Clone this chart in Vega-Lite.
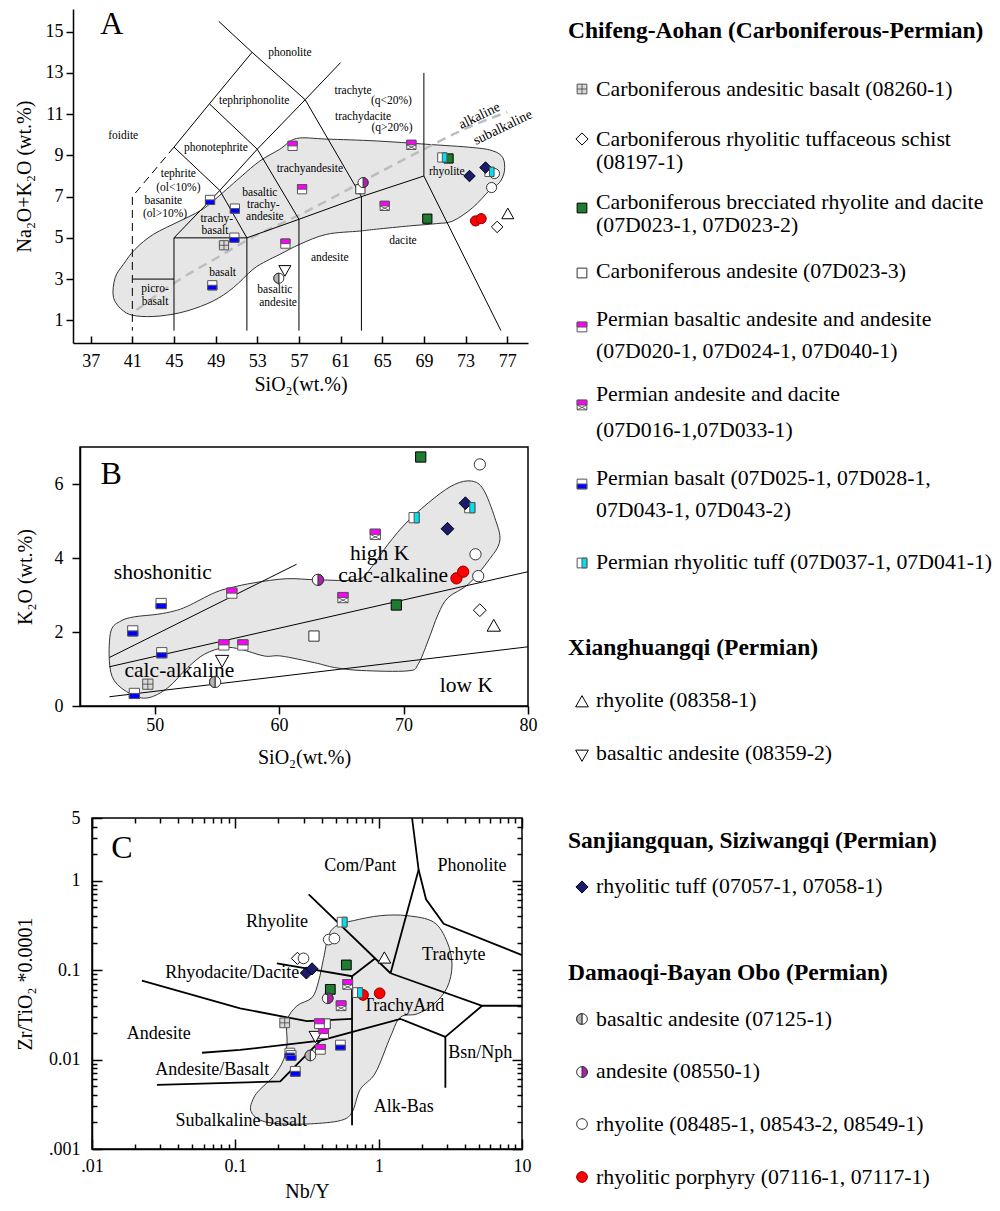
{
"$schema": "https://vega.github.io/schema/vega-lite/v6.json",
"padding": {"left": 13, "top": 8, "right": 0, "bottom": 0},
"config": {
  "font": "Liberation Serif",
  "view": {"stroke": null},
  "axis": {"grid": false, "domainColor": "#000000", "tickColor": "#000000", "labelColor": "#000000", "titleColor": "#000000", "labelFont": "Liberation Serif", "titleFont": "Liberation Serif", "titleFontWeight": "normal", "labelFontSize": 18, "titleFontSize": 20, "domainWidth": 1.5, "tickWidth": 1.5, "labelFlush": false, "labelOverlap": false},
  "text": {"font": "Liberation Serif", "color": "#000000"}
},
"datasets": {
  "blank": [{"t": ""}],
  "blobA": [{"i":1,"x":39.19,"y":2.1},{"i":2,"x":39.35,"y":3.07},{"i":3,"x":40.15,"y":3.72},{"i":4,"x":41.27,"y":4.45},{"i":5,"x":43.02,"y":5.17},{"i":6,"x":45.58,"y":5.82},{"i":7,"x":47.5,"y":6.31},{"i":8,"x":48.77,"y":6.79},{"i":9,"x":51.33,"y":7.92},{"i":10,"x":53.25,"y":8.73},{"i":11,"x":55.17,"y":9.3},{"i":12,"x":56.77,"y":9.82},{"i":13,"x":59.65,"y":9.79},{"i":14,"x":64.44,"y":9.7},{"i":15,"x":69.23,"y":9.54},{"i":16,"x":73.7,"y":9.38},{"i":17,"x":75.62,"y":9.22},{"i":18,"x":76.58,"y":8.89},{"i":19,"x":76.74,"y":8.25},{"i":20,"x":76.26,"y":7.68},{"i":21,"x":75.3,"y":7.3},{"i":22,"x":73.7,"y":6.47},{"i":23,"x":71.79,"y":5.82},{"i":24,"x":70.19,"y":5.69},{"i":25,"x":67.63,"y":5.58},{"i":26,"x":64.44,"y":5.42},{"i":27,"x":62.84,"y":5.33},{"i":28,"x":59.65,"y":5.17},{"i":29,"x":57.09,"y":4.69},{"i":30,"x":55.17,"y":4.2},{"i":31,"x":53.9,"y":3.88},{"i":32,"x":52.6,"y":3.48},{"i":33,"x":50.69,"y":2.58},{"i":34,"x":48.77,"y":1.94},{"i":35,"x":46.22,"y":1.45},{"i":36,"x":43.66,"y":1.21},{"i":37,"x":41.43,"y":1.21},{"i":38,"x":40.15,"y":1.45}],
  "irvineA": [{"i":1,"x":41.4,"y":1.5},{"i":2,"x":45,"y":2.8},{"i":3,"x":49,"y":4.0},{"i":4,"x":53,"y":5.15},{"i":5,"x":57,"y":6.1},{"i":6,"x":61,"y":7.15},{"i":7,"x":65,"y":8.25},{"i":8,"x":69,"y":9.3},{"i":9,"x":73,"y":10.3},{"i":10,"x":77,"y":11.1}],
  "linesA": [
    {"seg":"L1","i":1,"x":49.3,"y":15.5},{"seg":"L1","i":2,"x":52.5,"y":14},{"seg":"L1","i":3,"x":57.6,"y":11.7},
    {"seg":"L2","i":1,"x":52.5,"y":14},{"seg":"L2","i":2,"x":48.4,"y":11.5},{"seg":"L2","i":3,"x":45,"y":9.4},
    {"seg":"L3","i":1,"x":45,"y":9.4},{"seg":"L3","i":2,"x":41,"y":7},{"seg":"L3","i":3,"x":41,"y":0.5},
    {"seg":"L4","i":1,"x":41,"y":3},{"seg":"L4","i":2,"x":45,"y":3},
    {"seg":"L5","i":1,"x":45,"y":0.5},{"seg":"L5","i":2,"x":45,"y":5},{"seg":"L5","i":3,"x":49.4,"y":7.3},{"seg":"L5","i":4,"x":53,"y":9.3},{"seg":"L5","i":5,"x":57.6,"y":11.7},{"seg":"L5","i":6,"x":61,"y":13.5},
    {"seg":"L6","i":1,"x":45,"y":5},{"seg":"L6","i":2,"x":52,"y":5},{"seg":"L6","i":3,"x":57,"y":5.9},{"seg":"L6","i":4,"x":63,"y":7},{"seg":"L6","i":5,"x":69,"y":8},{"seg":"L6","i":6,"x":76.4,"y":0.5},
    {"seg":"L7","i":1,"x":45,"y":9.4},{"seg":"L7","i":2,"x":49.4,"y":7.3},{"seg":"L7","i":3,"x":52,"y":5},{"seg":"L7","i":4,"x":52,"y":0.5},
    {"seg":"L8","i":1,"x":48.4,"y":11.5},{"seg":"L8","i":2,"x":53,"y":9.3},{"seg":"L8","i":3,"x":57,"y":5.9},{"seg":"L8","i":4,"x":57,"y":0.5},
    {"seg":"L9","i":1,"x":57.6,"y":11.7},{"seg":"L9","i":2,"x":63,"y":7},{"seg":"L9","i":3,"x":63,"y":0.5},
    {"seg":"L10","i":1,"x":69,"y":8},{"seg":"L10","i":2,"x":69,"y":13}
  ],
  "labelsA": [
    {"x":40.12,"y":9.95,"t":"foidite"},{"x":56.13,"y":13.97,"t":"phonolite"},{"x":52.7,"y":11.64,"t":"tephriphonolite"},{"x":49.03,"y":9.36,"t":"phonotephrite"},
    {"x":62.2,"y":12.12,"t":"trachyte"},{"x":65.88,"y":11.62,"t":"(q<20%)"},{"x":63.16,"y":10.88,"t":"trachydacite"},{"x":65.94,"y":10.32,"t":"(q>20%)"},
    {"x":58.05,"y":8.36,"t":"trachyandesite"},{"x":71.2,"y":8.21,"t":"rhyolite"},{"x":45.42,"y":8.1,"t":"tephrite"},{"x":45.42,"y":7.44,"t":"(ol<10%)"},
    {"x":43.98,"y":6.8,"t":"basanite"},{"x":44.14,"y":6.14,"t":"(ol>10%)"},{"x":53.25,"y":7.18,"t":"basaltic"},{"x":53.57,"y":6.6,"t":"trachy-"},{"x":53.73,"y":6.0,"t":"andesite"},
    {"x":49.1,"y":5.92,"t":"trachy-"},{"x":48.94,"y":5.32,"t":"basalt"},{"x":49.67,"y":3.31,"t":"basalt"},{"x":43.18,"y":2.5,"t":"picro-"},{"x":43.18,"y":1.9,"t":"basalt"},
    {"x":54.69,"y":2.45,"t":"basaltic"},{"x":55.0,"y":1.84,"t":"andesite"},{"x":59.96,"y":4.04,"t":"andesite"},{"x":66.99,"y":4.85,"t":"dacite"}
  ],
  "ptsA": [
    {"type":"andbas","x":49.8,"y":4.64},
    {"type":"pbasalt","x":48.46,"y":6.84},{"type":"pbasalt","x":50.85,"y":6.42},{"type":"pbasalt","x":50.8,"y":5.01},{"type":"pbasalt","x":48.68,"y":2.7},
    {"type":"pbasand","x":56.39,"y":9.46},{"type":"pbasand","x":57.3,"y":7.36},{"type":"pbasand","x":55.7,"y":4.72},
    {"type":"pandac","x":67.8,"y":9.51},{"type":"pandac","x":65.24,"y":6.55},
    {"type":"andesiteC","x":62.9,"y":7.36},
    {"type":"basandD","x":55.07,"y":3.04},{"type":"basandX","x":55.65,"y":3.43},
    {"type":"andD","x":63.16,"y":7.68},
    {"type":"breccia","x":69.33,"y":5.93},{"type":"breccia","x":71.37,"y":8.85},
    {"type":"ptuff","x":70.77,"y":8.9},{"type":"ptuff","x":75.3,"y":8.2},
    {"type":"tuffS","x":73.38,"y":8.0},{"type":"tuffS","x":74.92,"y":8.41},
    {"type":"rhyD","x":75.78,"y":8.12},{"type":"rhyD","x":75.5,"y":7.44},
    {"type":"porph","x":73.96,"y":5.82},{"type":"porph","x":74.5,"y":5.93},
    {"type":"schist","x":76.04,"y":5.53},{"type":"rhyoliteX","x":77.06,"y":6.15}
  ],
  "blobB": [{"i":1,"x":46.49,"y":2.03},{"i":2,"x":47.3,"y":2.3},{"i":3,"x":48.37,"y":2.41},{"i":4,"x":50.25,"y":2.48},{"i":5,"x":51.59,"y":2.57},{"i":6,"x":52.66,"y":2.7},{"i":7,"x":54.8,"y":3.06},{"i":8,"x":56.15,"y":3.2},{"i":9,"x":58.0,"y":3.33},{"i":10,"x":60.57,"y":3.44},{"i":11,"x":63.1,"y":3.41},{"i":12,"x":66.3,"y":3.42},{"i":13,"x":67.4,"y":3.74},{"i":14,"x":68.75,"y":4.37},{"i":15,"x":70.36,"y":5.0},{"i":16,"x":72.5,"y":5.63},{"i":17,"x":74.11,"y":5.99},{"i":18,"x":75.46,"y":6.08},{"i":19,"x":76.4,"y":5.86},{"i":20,"x":77.33,"y":5.09},{"i":21,"x":77.73,"y":4.46},{"i":22,"x":76.8,"y":3.92},{"i":23,"x":75.2,"y":3.29},{"i":24,"x":73.58,"y":2.93},{"i":25,"x":72.78,"y":2.48},{"i":26,"x":71.97,"y":1.76},{"i":27,"x":71.17,"y":1.13},{"i":28,"x":70.36,"y":0.95},{"i":29,"x":66.6,"y":0.96},{"i":30,"x":64.46,"y":1.04},{"i":31,"x":62.85,"y":1.17},{"i":32,"x":60.17,"y":1.35},{"i":33,"x":58.83,"y":1.35},{"i":34,"x":56.95,"y":1.53},{"i":35,"x":55.6,"y":1.58},{"i":36,"x":54.0,"y":1.4},{"i":37,"x":52.66,"y":1.04},{"i":38,"x":51.05,"y":0.49},{"i":39,"x":49.45,"y":0.22},{"i":40,"x":48.1,"y":0.32},{"i":41,"x":46.76,"y":0.68},{"i":42,"x":46.36,"y":1.22}],
  "linesB": [
    {"seg":"S1","i":1,"x":46.36,"y":1.31},{"seg":"S1","i":2,"x":61.4,"y":3.83},
    {"seg":"S2","i":1,"x":46.36,"y":1.06},{"seg":"S2","i":2,"x":80,"y":3.63},
    {"seg":"S3","i":1,"x":46.36,"y":0.25},{"seg":"S3","i":2,"x":80,"y":1.6}
  ],
  "labelsB": [
    {"x":50.65,"y":3.6,"t":"shoshonitic"},{"x":51.99,"y":0.95,"t":"calc-alkaline"},{"x":68.08,"y":4.1,"t":"high K"},{"x":69.16,"y":3.51,"t":"calc-alkaline"},{"x":75.05,"y":0.54,"t":"low K"}
  ],
  "ptsB": [
    {"type":"andbas","x":49.45,"y":0.59},
    {"type":"pbasalt","x":48.24,"y":2.03},{"type":"pbasalt","x":50.52,"y":2.77},{"type":"pbasalt","x":50.57,"y":1.44},{"type":"pbasalt","x":48.37,"y":0.34},
    {"type":"pbasand","x":56.2,"y":3.05},{"type":"pbasand","x":55.56,"y":1.65},{"type":"pbasand","x":57.09,"y":1.65},
    {"type":"basandD","x":54.86,"y":0.65},{"type":"basandX","x":55.42,"y":1.23},
    {"type":"andesiteC","x":62.8,"y":1.89},{"type":"andD","x":63.12,"y":3.41},
    {"type":"pandac","x":65.13,"y":2.93},{"type":"pandac","x":67.73,"y":4.64},
    {"type":"breccia","x":69.42,"y":2.73},{"type":"breccia","x":71.38,"y":6.73},
    {"type":"ptuff","x":70.85,"y":5.09},{"type":"ptuff","x":75.32,"y":5.36},
    {"type":"tuffS","x":73.53,"y":4.79},{"type":"tuffS","x":74.97,"y":5.48},
    {"type":"rhyD","x":76.13,"y":6.53},{"type":"rhyD","x":75.78,"y":4.1},{"type":"rhyD","x":76.0,"y":3.51},
    {"type":"porph","x":74.25,"y":3.45},{"type":"porph","x":74.79,"y":3.63},
    {"type":"schist","x":76.13,"y":2.59},{"type":"rhyoliteX","x":77.25,"y":2.16}
  ],
  "blobC": [{"i":1,"x":0.5125,"y":0.315},{"i":2,"x":0.669,"y":0.357},{"i":3,"x":1.028,"y":0.405},{"i":4,"x":1.578,"y":0.405},{"i":5,"x":2.42,"y":0.343},{"i":6,"x":3.0,"y":0.207},{"i":7,"x":3.25,"y":0.114},{"i":8,"x":3.0,"y":0.0634},{"i":9,"x":2.42,"y":0.0416},{"i":10,"x":1.853,"y":0.0323},{"i":11,"x":1.417,"y":0.0297},{"i":12,"x":1.207,"y":0.0179},{"i":13,"x":0.948,"y":0.00707},{"i":14,"x":0.745,"y":0.00465},{"i":15,"x":0.652,"y":0.00257},{"i":16,"x":0.541,"y":0.00208},{"i":17,"x":0.334,"y":0.00191},{"i":18,"x":0.206,"y":0.00191},{"i":19,"x":0.149,"y":0.0021},{"i":20,"x":0.128,"y":0.0027},{"i":21,"x":0.134,"y":0.0037},{"i":22,"x":0.149,"y":0.00465},{"i":23,"x":0.185,"y":0.0065},{"i":24,"x":0.217,"y":0.00993},{"i":25,"x":0.2295,"y":0.0151},{"i":26,"x":0.2295,"y":0.0273},{"i":27,"x":0.2696,"y":0.0399},{"i":28,"x":0.343,"y":0.0492},{"i":29,"x":0.381,"y":0.0751},{"i":30,"x":0.413,"y":0.1355},{"i":31,"x":0.448,"y":0.244}],
  "linesC": [
    {"seg":"c1","i":1,"x":0.325,"y":0.7},{"seg":"c1","i":2,"x":1.21,"y":0.092},
    {"seg":"c2","i":1,"x":1.71,"y":5},{"seg":"c2","i":2,"x":1.9,"y":1.32},{"seg":"c2","i":3,"x":2.14,"y":0.618},{"seg":"c2","i":4,"x":2.84,"y":0.328},{"seg":"c2","i":5,"x":10,"y":0.147},
    {"seg":"c3","i":1,"x":1.9,"y":1.32},{"seg":"c3","i":2,"x":1.21,"y":0.092},
    {"seg":"c4","i":1,"x":1.21,"y":0.092},{"seg":"c4","i":2,"x":5.27,"y":0.0399},{"seg":"c4","i":3,"x":10,"y":0.0399},
    {"seg":"c5","i":1,"x":5.27,"y":0.0399},{"seg":"c5","i":2,"x":2.92,"y":0.0179},{"seg":"c5","i":3,"x":2.92,"y":0.00484},
    {"seg":"c6","i":1,"x":2.92,"y":0.0179},{"seg":"c6","i":2,"x":1.42,"y":0.0284},{"seg":"c6","i":3,"x":0.392,"y":0.0163},{"seg":"c6","i":4,"x":0.206,"y":0.0057},{"seg":"c6","i":5,"x":0.0284,"y":0.0052},
    {"seg":"c7","i":1,"x":0.0586,"y":0.0119},{"seg":"c7","i":2,"x":0.108,"y":0.0128},{"seg":"c7","i":3,"x":0.392,"y":0.0163},
    {"seg":"c8","i":1,"x":0.0223,"y":0.0762},{"seg":"c8","i":2,"x":0.108,"y":0.0373},{"seg":"c8","i":3,"x":0.316,"y":0.0268},{"seg":"c8","i":4,"x":0.652,"y":0.0284},
    {"seg":"c9","i":1,"x":0.195,"y":0.119},{"seg":"c9","i":2,"x":0.652,"y":0.0853},{"seg":"c9","i":3,"x":0.948,"y":0.1355},
    {"seg":"c10","i":1,"x":0.652,"y":0.0853},{"seg":"c10","i":2,"x":0.652,"y":0.00184}
  ],
  "labelsC": [
    {"x":0.745,"y":1.47,"t":"Com/Pant"},{"x":4.48,"y":1.47,"t":"Phonolite"},{"x":0.195,"y":0.343,"t":"Rhyolite"},{"x":0.0953,"y":0.0927,"t":"Rhyodacite/Dacite"},
    {"x":0.0292,"y":0.0195,"t":"Andesite"},{"x":0.069,"y":0.0076,"t":"Andesite/Basalt"},{"x":0.11,"y":0.00203,"t":"Subalkaline basalt"},
    {"x":3.34,"y":0.147,"t":"Trachyte"},{"x":1.494,"y":0.0399,"t":"TrachyAnd"},{"x":5.12,"y":0.0117,"t":"Bsn/Nph"},{"x":1.494,"y":0.00292,"t":"Alk-Bas"}
  ],
  "ptsC": [
    {"type":"andbas","x":0.221,"y":0.0257},{"type":"andesiteC","x":0.425,"y":0.0251},
    {"type":"pbasand","x":0.386,"y":0.0251},{"type":"pbasand","x":0.413,"y":0.0195},{"type":"pbasand","x":0.392,"y":0.013},
    {"type":"basandX","x":0.362,"y":0.0182},{"type":"basandD","x":0.334,"y":0.0111},
    {"type":"pbasalt","x":0.541,"y":0.0145},{"type":"pbasalt","x":0.24,"y":0.0118},{"type":"pbasalt","x":0.245,"y":0.0111},{"type":"pbasalt","x":0.262,"y":0.00738},
    {"type":"pandac","x":0.608,"y":0.069},{"type":"pandac","x":0.547,"y":0.0399},
    {"type":"andD","x":0.441,"y":0.0484},
    {"type":"breccia","x":0.595,"y":0.114},{"type":"breccia","x":0.46,"y":0.0608},
    {"type":"schist","x":0.271,"y":0.135},
    {"type":"rhyD","x":0.448,"y":0.219},{"type":"rhyD","x":0.491,"y":0.225},{"type":"rhyD","x":0.299,"y":0.135},
    {"type":"tuffS","x":0.313,"y":0.0927},{"type":"tuffS","x":0.343,"y":0.103},
    {"type":"ptuff","x":0.556,"y":0.343},{"type":"ptuff","x":0.713,"y":0.0559},
    {"type":"rhyoliteX","x":1.096,"y":0.1355},
    {"type":"porph","x":0.778,"y":0.0527},{"type":"porph","x":1.016,"y":0.055}
  ],
  "legendText": [
    {"kind":"h","row":30,"t":"Chifeng-Aohan (Carboniferous-Permian)"},
    {"kind":"i","row":88,"t":"Carboniferous andesitic basalt (08260-1)"},
    {"kind":"i","row":138,"t":"Carboniferous rhyolitic tuffaceous schist"},
    {"kind":"i","row":161,"t":"(08197-1)"},
    {"kind":"i","row":201,"t":"Carboniferous brecciated rhyolite and dacite"},
    {"kind":"i","row":224,"t":"(07D023-1, 07D023-2)"},
    {"kind":"i","row":270,"t":"Carboniferous andesite (07D023-3)"},
    {"kind":"i","row":318,"t":"Permian basaltic andesite and andesite"},
    {"kind":"i","row":350,"t":"(07D020-1, 07D024-1, 07D040-1)"},
    {"kind":"i","row":393,"t":"Permian andesite and dacite"},
    {"kind":"i","row":429,"t":"(07D016-1,07D033-1)"},
    {"kind":"i","row":477,"t":"Permian basalt (07D025-1, 07D028-1,"},
    {"kind":"i","row":509,"t":"07D043-1, 07D043-2)"},
    {"kind":"i","row":561,"t":"Permian rhyolitic tuff (07D037-1, 07D041-1)"},
    {"kind":"h","row":647,"t":"Xianghuangqi (Permian)"},
    {"kind":"i","row":699,"t":"rhyolite (08358-1)"},
    {"kind":"i","row":752,"t":"basaltic andesite (08359-2)"},
    {"kind":"h","row":840,"t":"Sanjiangquan, Siziwangqi (Permian)"},
    {"kind":"i","row":885,"t":"rhyolitic tuff (07057-1, 07058-1)"},
    {"kind":"h","row":972,"t":"Damaoqi-Bayan Obo (Permian)"},
    {"kind":"i","row":1018,"t":"basaltic andesite (07125-1)"},
    {"kind":"i","row":1070,"t":"andesite (08550-1)"},
    {"kind":"i","row":1123,"t":"rhyolite (08485-1, 08543-2, 08549-1)"},
    {"kind":"i","row":1176,"t":"rhyolitic porphyry (07116-1, 07117-1)"}
  ],
  "legendSym": [
    {"type":"andbas","row":88},{"type":"schist","row":138},{"type":"breccia","row":207},{"type":"andesiteC","row":272},
    {"type":"pbasand","row":326},{"type":"pandac","row":404},{"type":"pbasalt","row":483},{"type":"ptuff","row":562},
    {"type":"rhyoliteX","row":701},{"type":"basandX","row":754},{"type":"tuffS","row":886},
    {"type":"basandD","row":1018},{"type":"andD","row":1071},{"type":"rhyD","row":1123},{"type":"porph","row":1176}
  ]
},
"hconcat": [
  {"vconcat": [
    {"vconcat": [
    {"hconcat": [
      {"width": 1, "height": 10, "view": {"stroke": null}, "data": {"name": "blank"}, "mark": {"type": "text"}, "encoding": {"text": {"field": "t"}}},
      {
      "width": 455, "height": 334,
      "view": {"stroke": null},
      "encoding": {
        "x": {"field": "x", "type": "quantitative", "scale": {"domain": [35.3, 79], "nice": false, "zero": false},
              "axis": {"title": "SiO₂(wt.%)", "values": [37,41,45,49,53,57,61,65,69,73,77], "tickSize": -7, "labelPadding": 16, "titlePadding": 4}},
        "y": {"field": "y", "type": "quantitative", "scale": {"domain": [-0.1, 16.1], "nice": false, "zero": false},
              "axis": {"title": "Na₂O+K₂O (wt.%)", "values": [1,3,5,7,9,11,13,15], "tickSize": 7, "labelPadding": 3, "titlePadding": 11}}
      },
      "layer": [
        {"data": {"name": "blobA"}, "mark": {"type": "line", "interpolate": "cardinal-closed", "fill": "#e6e6e6", "stroke": "#333333", "strokeWidth": 1},
         "encoding": {"order": {"field": "i", "type": "quantitative"}}},
        {"data": {"name": "irvineA"}, "mark": {"type": "line", "interpolate": "monotone", "stroke": "#bdbdbd", "strokeWidth": 2.5, "strokeDash": [9, 6]},
         "encoding": {"order": {"field": "i", "type": "quantitative"}}},
        {"data": {"name": "linesA"}, "transform": [{"filter": "datum.seg != 'L3'"}], "mark": {"type": "line", "stroke": "#000000", "strokeWidth": 1},
         "encoding": {"detail": {"field": "seg"}, "order": {"field": "i", "type": "quantitative"}}},
        {"data": {"name": "linesA"}, "transform": [{"filter": "datum.seg == 'L3'"}], "mark": {"type": "line", "stroke": "#000000", "strokeWidth": 1, "strokeDash": [8, 5]},
         "encoding": {"detail": {"field": "seg"}, "order": {"field": "i", "type": "quantitative"}}},
        {"data": {"name": "labelsA"}, "mark": {"type": "text", "fontSize": 11.5, "align": "center", "baseline": "middle"},
         "encoding": {"text": {"field": "t"}}},
        {"data": {"values": [{"x": 74.34, "y": 10.92, "t": "alkaline"}, {"x": 76.58, "y": 10.35, "t": "subalkaline"}]},
         "mark": {"type": "text", "fontSize": 14, "angle": -26, "align": "center", "baseline": "middle"},
         "encoding": {"text": {"field": "t"}}},
        {"data": {"values": [{"x": 39.03, "y": 15.37, "t": "A"}]}, "mark": {"type": "text", "fontSize": 32, "align": "center", "baseline": "middle"},
         "encoding": {"text": {"field": "t"}}},
        {"data": {"name": "ptsA"}, "mark": {"type": "point", "filled": true, "opacity": 1, "strokeWidth": 1, "size": 85},
         "encoding": {
           "shape": {"field": "type", "type": "nominal", "legend": null, "scale": {"domain": ["andbas","schist","breccia","andesiteC","pbasand","pandac","pbasalt","ptuff","rhyoliteX","basandX","tuffS","basandD","andD","rhyD","porph"], "range": ["M-1,-1L1,-1L1,1L-1,1Z","M0,-1.25L1.25,0L0,1.25L-1.25,0Z","M-1,-1L1,-1L1,1L-1,1Z","M-1,-1L1,-1L1,1L-1,1Z","M-1,-1L1,-1L1,1L-1,1Z","M-1,-1L1,-1L1,1L-1,1Z","M-1,-1L1,-1L1,1L-1,1Z","M-1,-1L1,-1L1,1L-1,1Z","M0,-1.3L1.3,1L-1.3,1Z","M-1.3,-1L1.3,-1L0,1.3Z","M0,-1.25L1.25,0L0,1.25L-1.25,0Z","M1.1,0A1.1,1.1 0 1 1 -1.1,0A1.1,1.1 0 1 1 1.1,0Z","M1.1,0A1.1,1.1 0 1 1 -1.1,0A1.1,1.1 0 1 1 1.1,0Z","M1.1,0A1.1,1.1 0 1 1 -1.1,0A1.1,1.1 0 1 1 1.1,0Z","M1.1,0A1.1,1.1 0 1 1 -1.1,0A1.1,1.1 0 1 1 1.1,0Z"]}},
           "fill": {"field": "type", "type": "nominal", "legend": null, "scale": {"domain": ["andbas","schist","breccia","andesiteC","pbasand","pandac","pbasalt","ptuff","rhyoliteX","basandX","tuffS","basandD","andD","rhyD","porph"], "range": ["#d8d8d8","#ffffff","#1e7b2f","#ffffff","#ffffff","#ffffff","#ffffff","#ffffff","#ffffff","#ffffff","#1b1b6e","#ffffff","#ffffff","#ffffff","#ff0000"]}},
           "stroke": {"field": "type", "type": "nominal", "legend": null, "scale": {"domain": ["andbas","schist","breccia","andesiteC","pbasand","pandac","pbasalt","ptuff","rhyoliteX","basandX","tuffS","basandD","andD","rhyD","porph"], "range": ["#555555","#000000","#000000","#333333","#555555","#555555","#555555","#555555","#000000","#000000","#000000","#333333","#333333","#333333","#8b0000"]}}
         }},
        {"data": {"name": "ptsA"}, "transform": [{"filter": {"field": "type", "oneOf": ["pbasand","pandac","pbasalt","ptuff","basandD","andD"]}}],
         "mark": {"type": "point", "filled": true, "opacity": 1, "strokeWidth": 1, "size": 85},
         "encoding": {
           "shape": {"field": "type", "type": "nominal", "legend": null, "scale": {"domain": ["pbasand","pandac","pbasalt","ptuff","basandD","andD"], "range": ["M-1,-1L1,-1L1,0L-1,0Z","M-1,-1L1,-1L1,0L-1,0Z","M-1,0L1,0L1,1L-1,1Z","M0,-1L1,-1L1,1L0,1Z","M0,-1.1A1.1,1.1 0 0 0 0,1.1Z","M0,-1.1A1.1,1.1 0 0 1 0,1.1Z"]}},
           "fill": {"field": "type", "type": "nominal", "legend": null, "scale": {"domain": ["pbasand","pandac","pbasalt","ptuff","basandD","andD"], "range": ["#ff00ff","#ff00ff","#0000ff","#00e0f0","#b4b4b4","#b020b0"]}},
           "stroke": {"field": "type", "type": "nominal", "legend": null, "scale": {"domain": ["pbasand","pandac","pbasalt","ptuff","basandD","andD"], "range": ["#555555","#555555","#555555","#555555","#333333","#333333"]}}
         }},
        {"data": {"name": "ptsA"}, "transform": [{"filter": {"field": "type", "oneOf": ["andbas","pandac","basandD"]}}],
         "mark": {"type": "point", "filled": false, "opacity": 1, "strokeWidth": 0.8, "stroke": "#444444", "size": 85},
         "encoding": {
           "shape": {"field": "type", "type": "nominal", "legend": null, "scale": {"domain": ["andbas","pandac","basandD"], "range": ["M0,-1L0,1M-1,0L1,0","M-1,0L1,1M1,0L-1,1","M0,-1.1L0,1.1"]}}
         }}
      ],
      "resolve": {"scale": {"shape": "independent", "fill": "independent", "stroke": "independent"}}
    }], "spacing": 0},
    {"hconcat": [
      {"width": 1, "height": 10, "view": {"stroke": null}, "data": {"name": "blank"}, "mark": {"type": "text"}, "encoding": {"text": {"field": "t"}}},
      {
      "width": 448, "height": 259,
      "view": {"stroke": "#000000", "strokeWidth": 1.5},
      "encoding": {
        "x": {"field": "x", "type": "quantitative", "scale": {"domain": [44, 80], "nice": false, "zero": false},
              "axis": {"title": "SiO₂(wt.%)", "values": [50,60,70,80], "tickSize": 8, "labelPadding": 2, "titlePadding": 13}},
        "y": {"field": "y", "type": "quantitative", "scale": {"domain": [0, 7], "nice": false, "zero": false},
              "axis": {"title": "K₂O (wt.%)", "values": [0,2,4,6], "tickSize": 8, "labelPadding": 9, "titlePadding": 19}}
      },
      "layer": [
        {"data": {"name": "blobB"}, "mark": {"type": "line", "interpolate": "cardinal-closed", "fill": "#e6e6e6", "stroke": "#333333", "strokeWidth": 1},
         "encoding": {"order": {"field": "i", "type": "quantitative"}}},
        {"data": {"name": "linesB"}, "mark": {"type": "line", "stroke": "#000000", "strokeWidth": 1},
         "encoding": {"detail": {"field": "seg"}, "order": {"field": "i", "type": "quantitative"}}},
        {"data": {"name": "labelsB"}, "mark": {"type": "text", "fontSize": 21.5, "align": "center", "baseline": "middle"},
         "encoding": {"text": {"field": "t"}}},
        {"data": {"values": [{"x": 46.5, "y": 6.26, "t": "B"}]}, "mark": {"type": "text", "fontSize": 32, "align": "center", "baseline": "middle"},
         "encoding": {"text": {"field": "t"}}},
        {"data": {"name": "ptsB"}, "mark": {"type": "point", "filled": true, "opacity": 1, "strokeWidth": 1, "size": 105},
         "encoding": {
           "shape": {"field": "type", "type": "nominal", "legend": null, "scale": {"domain": ["andbas","schist","breccia","andesiteC","pbasand","pandac","pbasalt","ptuff","rhyoliteX","basandX","tuffS","basandD","andD","rhyD","porph"], "range": ["M-1,-1L1,-1L1,1L-1,1Z","M0,-1.25L1.25,0L0,1.25L-1.25,0Z","M-1,-1L1,-1L1,1L-1,1Z","M-1,-1L1,-1L1,1L-1,1Z","M-1,-1L1,-1L1,1L-1,1Z","M-1,-1L1,-1L1,1L-1,1Z","M-1,-1L1,-1L1,1L-1,1Z","M-1,-1L1,-1L1,1L-1,1Z","M0,-1.3L1.3,1L-1.3,1Z","M-1.3,-1L1.3,-1L0,1.3Z","M0,-1.25L1.25,0L0,1.25L-1.25,0Z","M1.1,0A1.1,1.1 0 1 1 -1.1,0A1.1,1.1 0 1 1 1.1,0Z","M1.1,0A1.1,1.1 0 1 1 -1.1,0A1.1,1.1 0 1 1 1.1,0Z","M1.1,0A1.1,1.1 0 1 1 -1.1,0A1.1,1.1 0 1 1 1.1,0Z","M1.1,0A1.1,1.1 0 1 1 -1.1,0A1.1,1.1 0 1 1 1.1,0Z"]}},
           "fill": {"field": "type", "type": "nominal", "legend": null, "scale": {"domain": ["andbas","schist","breccia","andesiteC","pbasand","pandac","pbasalt","ptuff","rhyoliteX","basandX","tuffS","basandD","andD","rhyD","porph"], "range": ["#d8d8d8","#ffffff","#1e7b2f","#ffffff","#ffffff","#ffffff","#ffffff","#ffffff","#ffffff","#ffffff","#1b1b6e","#ffffff","#ffffff","#ffffff","#ff0000"]}},
           "stroke": {"field": "type", "type": "nominal", "legend": null, "scale": {"domain": ["andbas","schist","breccia","andesiteC","pbasand","pandac","pbasalt","ptuff","rhyoliteX","basandX","tuffS","basandD","andD","rhyD","porph"], "range": ["#555555","#000000","#000000","#333333","#555555","#555555","#555555","#555555","#000000","#000000","#000000","#333333","#333333","#333333","#8b0000"]}}
         }},
        {"data": {"name": "ptsB"}, "transform": [{"filter": {"field": "type", "oneOf": ["pbasand","pandac","pbasalt","ptuff","basandD","andD"]}}],
         "mark": {"type": "point", "filled": true, "opacity": 1, "strokeWidth": 1, "size": 105},
         "encoding": {
           "shape": {"field": "type", "type": "nominal", "legend": null, "scale": {"domain": ["pbasand","pandac","pbasalt","ptuff","basandD","andD"], "range": ["M-1,-1L1,-1L1,0L-1,0Z","M-1,-1L1,-1L1,0L-1,0Z","M-1,0L1,0L1,1L-1,1Z","M0,-1L1,-1L1,1L0,1Z","M0,-1.1A1.1,1.1 0 0 0 0,1.1Z","M0,-1.1A1.1,1.1 0 0 1 0,1.1Z"]}},
           "fill": {"field": "type", "type": "nominal", "legend": null, "scale": {"domain": ["pbasand","pandac","pbasalt","ptuff","basandD","andD"], "range": ["#ff00ff","#ff00ff","#0000ff","#00e0f0","#b4b4b4","#b020b0"]}},
           "stroke": {"field": "type", "type": "nominal", "legend": null, "scale": {"domain": ["pbasand","pandac","pbasalt","ptuff","basandD","andD"], "range": ["#555555","#555555","#555555","#555555","#333333","#333333"]}}
         }},
        {"data": {"name": "ptsB"}, "transform": [{"filter": {"field": "type", "oneOf": ["andbas","pandac","basandD"]}}],
         "mark": {"type": "point", "filled": false, "opacity": 1, "strokeWidth": 0.8, "stroke": "#444444", "size": 105},
         "encoding": {
           "shape": {"field": "type", "type": "nominal", "legend": null, "scale": {"domain": ["andbas","pandac","basandD"], "range": ["M0,-1L0,1M-1,0L1,0","M-1,0L1,1M1,0L-1,1","M0,-1.1L0,1.1"]}}
         }}
      ],
      "resolve": {"scale": {"shape": "independent", "fill": "independent", "stroke": "independent"}}
    }], "spacing": 0}
    ], "spacing": 52},
    {"hconcat": [
      {"width": 1, "height": 10, "view": {"stroke": null}, "data": {"name": "blank"}, "mark": {"type": "text"}, "encoding": {"text": {"field": "t"}}},
      {
      "width": 430, "height": 331,
      "view": {"stroke": "#000000", "strokeWidth": 1.5},
      "layer": [
        {"data": {"name": "blobC"}, "mark": {"type": "line", "interpolate": "cardinal-closed", "fill": "#e6e6e6", "stroke": "#333333", "strokeWidth": 1},
         "encoding": {
           "x": {"field": "x", "type": "quantitative", "scale": {"type": "log", "domain": [0.01, 10], "nice": false},
                 "axis": {"orient": "bottom", "title": "Nb/Y", "values": [0.01, 0.1, 1, 10], "tickSize": -10, "labelPadding": 18, "titlePadding": 6,
                          "labelExpr": "datum.value < 0.05 ? '.01' : datum.value < 0.5 ? '0.1' : datum.value < 5 ? '1' : '10'"}},
           "y": {"field": "y", "type": "quantitative", "scale": {"type": "log", "domain": [0.001, 5], "nice": false},
                 "axis": {"orient": "left", "title": "Zr/TiO₂ *0.0001", "values": [0.001, 0.01, 0.1, 1, 5], "tickSize": -10, "labelPadding": 22, "titlePadding": 13,
                          "labelExpr": "datum.value < 0.005 ? '.001' : datum.value < 0.05 ? '0.01' : datum.value < 0.5 ? '0.1' : datum.value < 2 ? '1' : '5'"}},
           "order": {"field": "i", "type": "quantitative"}}},
        {"data": {"name": "linesC"}, "mark": {"type": "line", "stroke": "#000000", "strokeWidth": 1.8},
         "encoding": {
           "x": {"field": "x", "type": "quantitative", "axis": {"orient": "bottom", "values": [0.02,0.03,0.04,0.05,0.06,0.07,0.08,0.09,0.2,0.3,0.4,0.5,0.6,0.7,0.8,0.9,2,3,4,5,6,7,8,9], "tickSize": -5, "labels": false, "domain": false, "title": null}},
           "y": {"field": "y", "type": "quantitative", "axis": {"orient": "left", "values": [0.002,0.003,0.004,0.005,0.006,0.007,0.008,0.009,0.02,0.03,0.04,0.05,0.06,0.07,0.08,0.09,0.2,0.3,0.4,0.5,0.6,0.7,0.8,0.9,2,3,4], "tickSize": -5, "labels": false, "domain": false, "title": null}},
           "detail": {"field": "seg"}, "order": {"field": "i", "type": "quantitative"}}},
        {"data": {"name": "labelsC"}, "mark": {"type": "text", "fontSize": 18, "align": "center", "baseline": "middle"},
         "encoding": {
           "x": {"field": "x", "type": "quantitative", "axis": {"orient": "top", "values": [0.01, 0.1, 1, 10], "tickSize": -10, "labels": false, "domain": false, "title": null}},
           "y": {"field": "y", "type": "quantitative", "axis": {"orient": "right", "values": [0.001, 0.01, 0.1, 1], "tickSize": -10, "labels": false, "domain": false, "title": null}},
           "text": {"field": "t"}}},
        {"data": {"values": [{"x": 0.0162, "y": 2.29, "t": "C"}]}, "mark": {"type": "text", "fontSize": 32, "align": "center", "baseline": "middle"},
         "encoding": {
           "x": {"field": "x", "type": "quantitative", "axis": {"orient": "top", "values": [0.02,0.03,0.04,0.05,0.06,0.07,0.08,0.09,0.2,0.3,0.4,0.5,0.6,0.7,0.8,0.9,2,3,4,5,6,7,8,9], "tickSize": -5, "labels": false, "domain": false, "title": null}},
           "y": {"field": "y", "type": "quantitative", "axis": {"orient": "right", "values": [0.002,0.003,0.004,0.005,0.006,0.007,0.008,0.009,0.02,0.03,0.04,0.05,0.06,0.07,0.08,0.09,0.2,0.3,0.4,0.5,0.6,0.7,0.8,0.9,2,3,4], "tickSize": -5, "labels": false, "domain": false, "title": null}},
           "text": {"field": "t"}}},
        {"data": {"name": "ptsC"}, "mark": {"type": "point", "filled": true, "opacity": 1, "strokeWidth": 1, "size": 95},
         "encoding": {
           "x": {"field": "x", "type": "quantitative", "axis": null},
           "y": {"field": "y", "type": "quantitative", "axis": null},
           "shape": {"field": "type", "type": "nominal", "legend": null, "scale": {"domain": ["andbas","schist","breccia","andesiteC","pbasand","pandac","pbasalt","ptuff","rhyoliteX","basandX","tuffS","basandD","andD","rhyD","porph"], "range": ["M-1,-1L1,-1L1,1L-1,1Z","M0,-1.25L1.25,0L0,1.25L-1.25,0Z","M-1,-1L1,-1L1,1L-1,1Z","M-1,-1L1,-1L1,1L-1,1Z","M-1,-1L1,-1L1,1L-1,1Z","M-1,-1L1,-1L1,1L-1,1Z","M-1,-1L1,-1L1,1L-1,1Z","M-1,-1L1,-1L1,1L-1,1Z","M0,-1.3L1.3,1L-1.3,1Z","M-1.3,-1L1.3,-1L0,1.3Z","M0,-1.25L1.25,0L0,1.25L-1.25,0Z","M1.1,0A1.1,1.1 0 1 1 -1.1,0A1.1,1.1 0 1 1 1.1,0Z","M1.1,0A1.1,1.1 0 1 1 -1.1,0A1.1,1.1 0 1 1 1.1,0Z","M1.1,0A1.1,1.1 0 1 1 -1.1,0A1.1,1.1 0 1 1 1.1,0Z","M1.1,0A1.1,1.1 0 1 1 -1.1,0A1.1,1.1 0 1 1 1.1,0Z"]}},
           "fill": {"field": "type", "type": "nominal", "legend": null, "scale": {"domain": ["andbas","schist","breccia","andesiteC","pbasand","pandac","pbasalt","ptuff","rhyoliteX","basandX","tuffS","basandD","andD","rhyD","porph"], "range": ["#d8d8d8","#ffffff","#1e7b2f","#ffffff","#ffffff","#ffffff","#ffffff","#ffffff","#ffffff","#ffffff","#1b1b6e","#ffffff","#ffffff","#ffffff","#ff0000"]}},
           "stroke": {"field": "type", "type": "nominal", "legend": null, "scale": {"domain": ["andbas","schist","breccia","andesiteC","pbasand","pandac","pbasalt","ptuff","rhyoliteX","basandX","tuffS","basandD","andD","rhyD","porph"], "range": ["#555555","#000000","#000000","#333333","#555555","#555555","#555555","#555555","#000000","#000000","#000000","#333333","#333333","#333333","#8b0000"]}}
         }},
        {"data": {"name": "ptsC"}, "transform": [{"filter": {"field": "type", "oneOf": ["pbasand","pandac","pbasalt","ptuff","basandD","andD"]}}],
         "mark": {"type": "point", "filled": true, "opacity": 1, "strokeWidth": 1, "size": 95},
         "encoding": {
           "x": {"field": "x", "type": "quantitative", "axis": null},
           "y": {"field": "y", "type": "quantitative", "axis": null},
           "shape": {"field": "type", "type": "nominal", "legend": null, "scale": {"domain": ["pbasand","pandac","pbasalt","ptuff","basandD","andD"], "range": ["M-1,-1L1,-1L1,0L-1,0Z","M-1,-1L1,-1L1,0L-1,0Z","M-1,0L1,0L1,1L-1,1Z","M0,-1L1,-1L1,1L0,1Z","M0,-1.1A1.1,1.1 0 0 0 0,1.1Z","M0,-1.1A1.1,1.1 0 0 1 0,1.1Z"]}},
           "fill": {"field": "type", "type": "nominal", "legend": null, "scale": {"domain": ["pbasand","pandac","pbasalt","ptuff","basandD","andD"], "range": ["#ff00ff","#ff00ff","#0000ff","#00e0f0","#b4b4b4","#b020b0"]}},
           "stroke": {"field": "type", "type": "nominal", "legend": null, "scale": {"domain": ["pbasand","pandac","pbasalt","ptuff","basandD","andD"], "range": ["#555555","#555555","#555555","#555555","#333333","#333333"]}}
         }},
        {"data": {"name": "ptsC"}, "transform": [{"filter": {"field": "type", "oneOf": ["andbas","pandac","basandD"]}}],
         "mark": {"type": "point", "filled": false, "opacity": 1, "strokeWidth": 0.8, "stroke": "#444444", "size": 95},
         "encoding": {
           "x": {"field": "x", "type": "quantitative", "axis": null},
           "y": {"field": "y", "type": "quantitative", "axis": null},
           "shape": {"field": "type", "type": "nominal", "legend": null, "scale": {"domain": ["andbas","pandac","basandD"], "range": ["M0,-1L0,1M-1,0L1,0","M-1,0L1,1M1,0L-1,1","M0,-1.1L0,1.1"]}}
         }}
      ],
      "resolve": {"axis": {"x": "independent", "y": "independent"}, "scale": {"shape": "independent", "fill": "independent", "stroke": "independent"}}
    }], "spacing": 0}
  ], "spacing": 40},
  {
    "width": 432, "height": 1190,
    "view": {"stroke": null},
    "layer": [
      {"data": {"name": "legendText"}, "transform": [{"filter": "datum.kind == 'h'"}],
       "mark": {"type": "text", "fontSize": 23.5, "fontWeight": "bold", "align": "left", "baseline": "middle"},
       "encoding": {
         "x": {"datum": 0, "type": "quantitative", "scale": {"domain": [0, 432], "nice": false, "zero": false}, "axis": null},
         "y": {"field": "row", "type": "quantitative", "scale": {"domain": [8, 1198], "nice": false, "zero": false, "reverse": true}, "axis": null},
         "text": {"field": "t"}}},
      {"data": {"name": "legendText"}, "transform": [{"filter": "datum.kind == 'i'"}],
       "mark": {"type": "text", "fontSize": 21.8, "align": "left", "baseline": "middle"},
       "encoding": {
         "x": {"datum": 28, "type": "quantitative"},
         "y": {"field": "row", "type": "quantitative"},
         "text": {"field": "t"}}},
      {"data": {"name": "legendSym"}, "mark": {"type": "point", "filled": true, "opacity": 1, "strokeWidth": 1, "size": 95},
       "encoding": {
         "x": {"datum": 14, "type": "quantitative"},
         "y": {"field": "row", "type": "quantitative"},
         "shape": {"field": "type", "type": "nominal", "legend": null, "scale": {"domain": ["andbas","schist","breccia","andesiteC","pbasand","pandac","pbasalt","ptuff","rhyoliteX","basandX","tuffS","basandD","andD","rhyD","porph"], "range": ["M-1,-1L1,-1L1,1L-1,1Z","M0,-1.25L1.25,0L0,1.25L-1.25,0Z","M-1,-1L1,-1L1,1L-1,1Z","M-1,-1L1,-1L1,1L-1,1Z","M-1,-1L1,-1L1,1L-1,1Z","M-1,-1L1,-1L1,1L-1,1Z","M-1,-1L1,-1L1,1L-1,1Z","M-1,-1L1,-1L1,1L-1,1Z","M0,-1.3L1.3,1L-1.3,1Z","M-1.3,-1L1.3,-1L0,1.3Z","M0,-1.25L1.25,0L0,1.25L-1.25,0Z","M1.1,0A1.1,1.1 0 1 1 -1.1,0A1.1,1.1 0 1 1 1.1,0Z","M1.1,0A1.1,1.1 0 1 1 -1.1,0A1.1,1.1 0 1 1 1.1,0Z","M1.1,0A1.1,1.1 0 1 1 -1.1,0A1.1,1.1 0 1 1 1.1,0Z","M1.1,0A1.1,1.1 0 1 1 -1.1,0A1.1,1.1 0 1 1 1.1,0Z"]}},
         "fill": {"field": "type", "type": "nominal", "legend": null, "scale": {"domain": ["andbas","schist","breccia","andesiteC","pbasand","pandac","pbasalt","ptuff","rhyoliteX","basandX","tuffS","basandD","andD","rhyD","porph"], "range": ["#d8d8d8","#ffffff","#1e7b2f","#ffffff","#ffffff","#ffffff","#ffffff","#ffffff","#ffffff","#ffffff","#1b1b6e","#ffffff","#ffffff","#ffffff","#ff0000"]}},
         "stroke": {"field": "type", "type": "nominal", "legend": null, "scale": {"domain": ["andbas","schist","breccia","andesiteC","pbasand","pandac","pbasalt","ptuff","rhyoliteX","basandX","tuffS","basandD","andD","rhyD","porph"], "range": ["#555555","#000000","#000000","#333333","#555555","#555555","#555555","#555555","#000000","#000000","#000000","#333333","#333333","#333333","#8b0000"]}}
       }},
      {"data": {"name": "legendSym"}, "transform": [{"filter": {"field": "type", "oneOf": ["pbasand","pandac","pbasalt","ptuff","basandD","andD"]}}],
       "mark": {"type": "point", "filled": true, "opacity": 1, "strokeWidth": 1, "size": 95},
       "encoding": {
         "x": {"datum": 14, "type": "quantitative"},
         "y": {"field": "row", "type": "quantitative"},
         "shape": {"field": "type", "type": "nominal", "legend": null, "scale": {"domain": ["pbasand","pandac","pbasalt","ptuff","basandD","andD"], "range": ["M-1,-1L1,-1L1,0L-1,0Z","M-1,-1L1,-1L1,0L-1,0Z","M-1,0L1,0L1,1L-1,1Z","M0,-1L1,-1L1,1L0,1Z","M0,-1.1A1.1,1.1 0 0 0 0,1.1Z","M0,-1.1A1.1,1.1 0 0 1 0,1.1Z"]}},
         "fill": {"field": "type", "type": "nominal", "legend": null, "scale": {"domain": ["pbasand","pandac","pbasalt","ptuff","basandD","andD"], "range": ["#ff00ff","#ff00ff","#0000ff","#00e0f0","#b4b4b4","#b020b0"]}},
         "stroke": {"field": "type", "type": "nominal", "legend": null, "scale": {"domain": ["pbasand","pandac","pbasalt","ptuff","basandD","andD"], "range": ["#555555","#555555","#555555","#555555","#333333","#333333"]}}
       }},
      {"data": {"name": "legendSym"}, "transform": [{"filter": {"field": "type", "oneOf": ["andbas","pandac","basandD"]}}],
       "mark": {"type": "point", "filled": false, "opacity": 1, "strokeWidth": 0.8, "stroke": "#444444", "size": 95},
       "encoding": {
         "x": {"datum": 14, "type": "quantitative"},
         "y": {"field": "row", "type": "quantitative"},
         "shape": {"field": "type", "type": "nominal", "legend": null, "scale": {"domain": ["andbas","pandac","basandD"], "range": ["M0,-1L0,1M-1,0L1,0","M-1,0L1,1M1,0L-1,1","M0,-1.1L0,1.1"]}}
       }}
    ],
    "resolve": {"scale": {"shape": "independent", "fill": "independent", "stroke": "independent"}}
  }
],
"spacing": 30
}
